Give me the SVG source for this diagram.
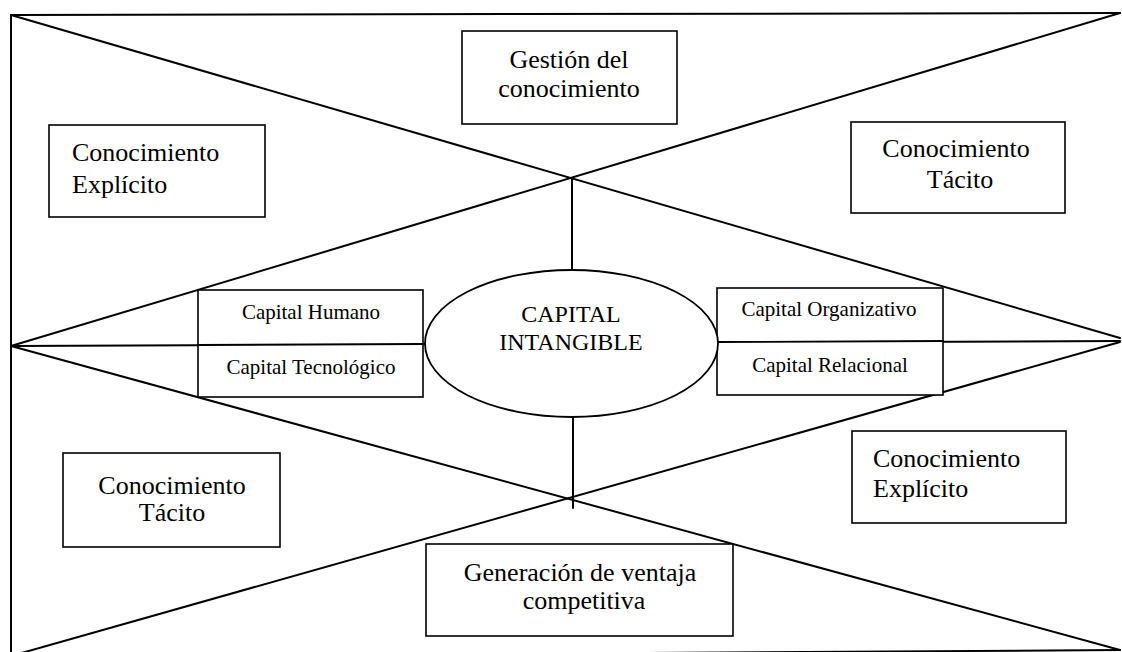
<svg xmlns="http://www.w3.org/2000/svg" width="1122" height="652" viewBox="0 0 1122 652">
  <style>
    .ln { stroke: #000; stroke-width: 2; fill: none; stroke-linecap: round; }
    .box { stroke: #000; stroke-width: 1.6; fill: #fff; }
    .big { font-family: "Liberation Serif", "Times New Roman", serif; font-size: 26px; fill: #000; }
    .small { font-family: "Liberation Serif", "Times New Roman", serif; font-size: 21px; fill: #000; }
    .core { font-family: "Liberation Serif", "Times New Roman", serif; font-size: 24px; fill: #000; }
    .mid { text-anchor: middle; }
  </style>
  <rect width="1122" height="652" fill="#fff"/>

  <!-- outer frame -->
  <g id="frame">
    <line class="ln" x1="11" y1="15" x2="1120" y2="13"/>
    <line class="ln" x1="11" y1="15" x2="11" y2="660"/>
    <line class="ln" x1="11" y1="657" x2="1120" y2="650"/>
  </g>

  <!-- crossing lines and axes -->
  <g id="connectors">
    <line class="ln" x1="11" y1="15" x2="1120" y2="338"/>
    <line class="ln" x1="1120" y1="13" x2="11" y2="346"/>
    <line class="ln" x1="11" y1="346" x2="1120" y2="650"/>
    <line class="ln" x1="1120" y1="342" x2="11" y2="656"/>
    <line class="ln" x1="11" y1="346" x2="1120" y2="341"/>
    <line class="ln" x1="572" y1="178" x2="572" y2="271"/>
    <line class="ln" x1="573" y1="416" x2="573" y2="508"/>
  </g>

  <g id="gestion">
    <rect class="box" x="462" y="31" width="215" height="93"/>
    <text class="big mid" x="569" y="68">Gestión del</text>
    <text class="big mid" x="569" y="97">conocimiento</text>
  </g>

  <g id="explicito-top">
    <rect class="box" x="49" y="125" width="216" height="92"/>
    <text class="big" x="72" y="161">Conocimiento</text>
    <text class="big" x="72" y="193">Explícito</text>
  </g>

  <g id="tacito-top">
    <rect class="box" x="851" y="122" width="214" height="91"/>
    <text class="big mid" x="956" y="157">Conocimiento</text>
    <text class="big mid" x="960" y="188">Tácito</text>
  </g>

  <g id="capitales-izq">
    <rect class="box" x="198" y="290" width="225" height="107"/>
    <line class="ln" x1="198" y1="345" x2="423" y2="344" style="stroke-width:1.8"/>
    <text class="small mid" x="311" y="319">Capital Humano</text>
    <text class="small mid" x="311" y="374">Capital Tecnológico</text>
  </g>

  <g id="capitales-der">
    <rect class="box" x="717" y="288" width="226" height="107"/>
    <line class="ln" x1="717" y1="342" x2="943" y2="341" style="stroke-width:1.8"/>
    <text class="small mid" x="829" y="316">Capital Organizativo</text>
    <text class="small mid" x="830" y="372">Capital Relacional</text>
  </g>

  <g id="capital-intangible">
    <ellipse cx="571.5" cy="343.5" rx="146.5" ry="73.5" fill="#fff" stroke="#000" stroke-width="1.8"/>
    <text class="core mid" x="571" y="322">CAPITAL</text>
    <text class="core mid" x="571" y="350">INTANGIBLE</text>
  </g>

  <g id="explicito-bottom">
    <rect class="box" x="852" y="431" width="214" height="92"/>
    <text class="big" x="873" y="467">Conocimiento</text>
    <text class="big" x="873" y="497">Explícito</text>
  </g>

  <g id="tacito-bottom">
    <rect class="box" x="63" y="453" width="217" height="94"/>
    <text class="big mid" x="172" y="494">Conocimiento</text>
    <text class="big mid" x="172" y="521">Tácito</text>
  </g>

  <g id="ventaja">
    <rect class="box" x="426" y="544" width="307" height="92"/>
    <text class="big mid" x="580" y="581">Generación de ventaja</text>
    <text class="big mid" x="584" y="609">competitiva</text>
  </g>
</svg>
